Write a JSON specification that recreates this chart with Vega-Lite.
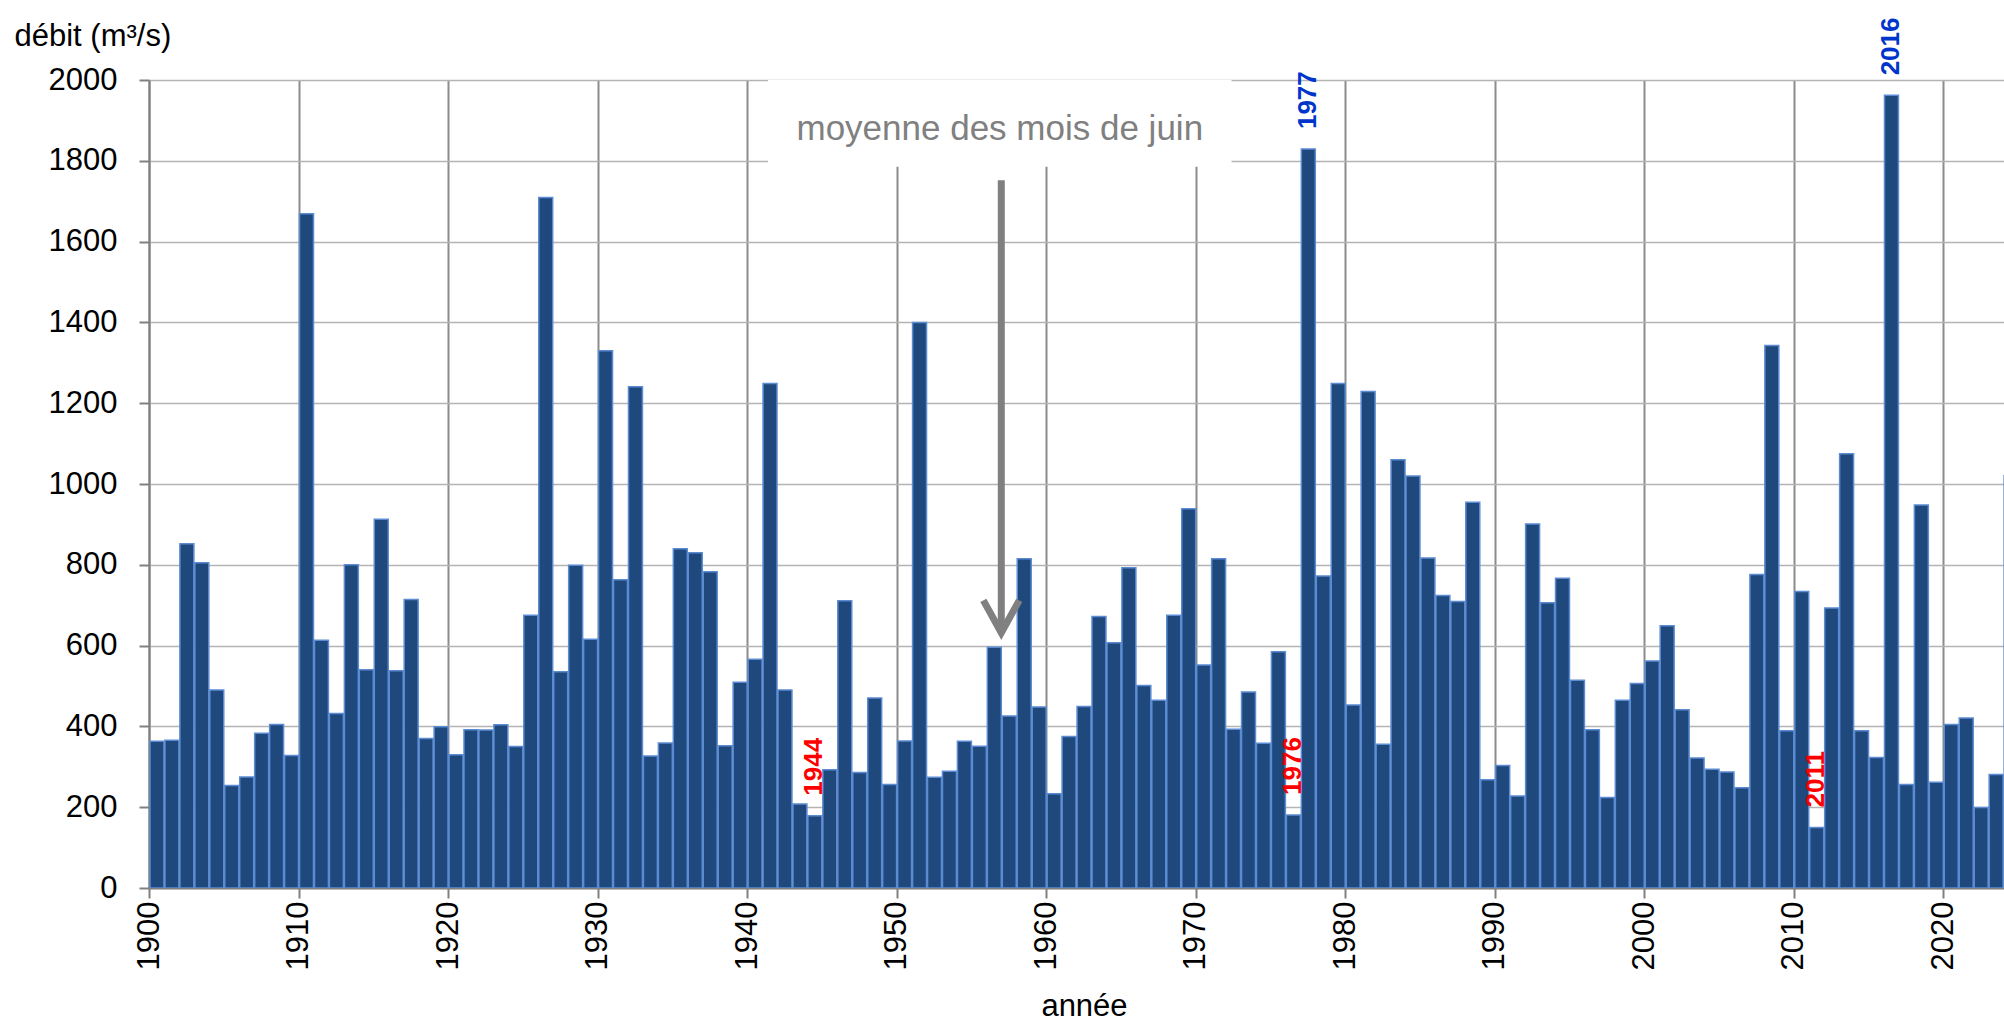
{
  "$schema": "https://vega.github.io/schema/vega-lite/v6.json",
  "autosize": "none",
  "width": 1855,
  "height": 808,
  "padding": {"left": 149, "top": 80, "right": 0, "bottom": 137},
  "background": "white",
  "config": {
    "view": {"stroke": null},
    "font": "Liberation Sans, Arial, sans-serif",
    "axis": {"labelFont": "Liberation Sans, Arial, sans-serif", "titleFont": "Liberation Sans, Arial, sans-serif", "labelColor": "#000000", "titleColor": "#000000", "titleFontWeight": "normal"}
  },
  "datasets": {
    "debits": [
      {"year": 1900, "debit": 363}, {"year": 1901, "debit": 366}, {"year": 1902, "debit": 852}, {"year": 1903, "debit": 805},
      {"year": 1904, "debit": 490}, {"year": 1905, "debit": 254}, {"year": 1906, "debit": 275}, {"year": 1907, "debit": 383},
      {"year": 1908, "debit": 405}, {"year": 1909, "debit": 328}, {"year": 1910, "debit": 1669}, {"year": 1911, "debit": 613},
      {"year": 1912, "debit": 432}, {"year": 1913, "debit": 800}, {"year": 1914, "debit": 540}, {"year": 1915, "debit": 913},
      {"year": 1916, "debit": 538}, {"year": 1917, "debit": 714}, {"year": 1918, "debit": 370}, {"year": 1919, "debit": 399},
      {"year": 1920, "debit": 330}, {"year": 1921, "debit": 392}, {"year": 1922, "debit": 391}, {"year": 1923, "debit": 404},
      {"year": 1924, "debit": 350}, {"year": 1925, "debit": 675}, {"year": 1926, "debit": 1709}, {"year": 1927, "debit": 535},
      {"year": 1928, "debit": 799}, {"year": 1929, "debit": 616}, {"year": 1930, "debit": 1330}, {"year": 1931, "debit": 763},
      {"year": 1932, "debit": 1241}, {"year": 1933, "debit": 327}, {"year": 1934, "debit": 359}, {"year": 1935, "debit": 840},
      {"year": 1936, "debit": 830}, {"year": 1937, "debit": 783}, {"year": 1938, "debit": 352}, {"year": 1939, "debit": 509},
      {"year": 1940, "debit": 566}, {"year": 1941, "debit": 1249}, {"year": 1942, "debit": 490}, {"year": 1943, "debit": 208},
      {"year": 1944, "debit": 179}, {"year": 1945, "debit": 293}, {"year": 1946, "debit": 711}, {"year": 1947, "debit": 286},
      {"year": 1948, "debit": 470}, {"year": 1949, "debit": 256}, {"year": 1950, "debit": 364}, {"year": 1951, "debit": 1400},
      {"year": 1952, "debit": 274}, {"year": 1953, "debit": 289}, {"year": 1954, "debit": 363}, {"year": 1955, "debit": 351},
      {"year": 1956, "debit": 596}, {"year": 1957, "debit": 426}, {"year": 1958, "debit": 815}, {"year": 1959, "debit": 448},
      {"year": 1960, "debit": 233}, {"year": 1961, "debit": 375}, {"year": 1962, "debit": 449}, {"year": 1963, "debit": 672},
      {"year": 1964, "debit": 607}, {"year": 1965, "debit": 793}, {"year": 1966, "debit": 501}, {"year": 1967, "debit": 465},
      {"year": 1968, "debit": 675}, {"year": 1969, "debit": 939}, {"year": 1970, "debit": 552}, {"year": 1971, "debit": 815},
      {"year": 1972, "debit": 393}, {"year": 1973, "debit": 485}, {"year": 1974, "debit": 358}, {"year": 1975, "debit": 585},
      {"year": 1976, "debit": 181}, {"year": 1977, "debit": 1829}, {"year": 1978, "debit": 772}, {"year": 1979, "debit": 1249},
      {"year": 1980, "debit": 453}, {"year": 1981, "debit": 1229}, {"year": 1982, "debit": 356}, {"year": 1983, "debit": 1060},
      {"year": 1984, "debit": 1020}, {"year": 1985, "debit": 817}, {"year": 1986, "debit": 724}, {"year": 1987, "debit": 709},
      {"year": 1988, "debit": 955}, {"year": 1989, "debit": 268}, {"year": 1990, "debit": 303}, {"year": 1991, "debit": 228},
      {"year": 1992, "debit": 901}, {"year": 1993, "debit": 706}, {"year": 1994, "debit": 767}, {"year": 1995, "debit": 514},
      {"year": 1996, "debit": 392}, {"year": 1997, "debit": 224}, {"year": 1998, "debit": 465}, {"year": 1999, "debit": 506},
      {"year": 2000, "debit": 562}, {"year": 2001, "debit": 649}, {"year": 2002, "debit": 441}, {"year": 2003, "debit": 322},
      {"year": 2004, "debit": 294}, {"year": 2005, "debit": 287}, {"year": 2006, "debit": 248}, {"year": 2007, "debit": 776},
      {"year": 2008, "debit": 1343}, {"year": 2009, "debit": 389}, {"year": 2010, "debit": 734}, {"year": 2011, "debit": 150},
      {"year": 2012, "debit": 693}, {"year": 2013, "debit": 1075}, {"year": 2014, "debit": 389}, {"year": 2015, "debit": 323},
      {"year": 2016, "debit": 1962}, {"year": 2017, "debit": 256}, {"year": 2018, "debit": 948}, {"year": 2019, "debit": 262},
      {"year": 2020, "debit": 405}, {"year": 2021, "debit": 421}, {"year": 2022, "debit": 199}, {"year": 2023, "debit": 281},
      {"year": 2024, "debit": 1021}
    ],
    "boite": [{"x1": 1941.4, "x2": 1972.4, "y1": 1785, "y2": 2000}],
    "legende": [{"x": 1956.9, "y": 1878, "texte": "moyenne des mois de juin"}],
    "fleche": [{"x": 1957, "y": 1752, "y2": 640}],
    "pointe": [{"x": 1955.8, "y": 712}, {"x": 1957, "y": 632}, {"x": 1958.2, "y": 712}]
  },
  "layer": [
    {
      "data": {"name": "boite"},
      "mark": {"type": "rect", "fill": "white", "stroke": null},
      "encoding": {
        "x": {"field": "x1", "type": "quantitative", "scale": {"domain": [1900, 2024.06], "nice": false, "zero": false}},
        "x2": {"field": "x2"},
        "y": {"field": "y1", "type": "quantitative", "scale": {"domain": [0, 2000], "nice": false}},
        "y2": {"field": "y2"}
      }
    },
    {
      "data": {"name": "debits"},
      "mark": {"type": "bar", "fill": "#1F497D", "stroke": "#5B8BD2", "strokeWidth": 1.5, "clip": true},
      "encoding": {
        "x": {
          "field": "year", "type": "quantitative",
          "bin": {"step": 1, "extent": [1900, 2025]},
          "axis": {
            "values": [1900, 1910, 1920, 1930, 1940, 1950, 1960, 1970, 1980, 1990, 2000, 2010, 2020],
            "format": "d", "labelAngle": 270, "labelAlign": "right", "labelBaseline": "middle",
            "labelFontSize": 31, "labelPadding": 3, "labelOverlap": false, "labelFlush": false,
            "tickSize": 10, "tickColor": "#808080", "tickWidth": 2,
            "domainColor": "#808080", "domainWidth": 2,
            "grid": true, "gridColor": "#8C8C8C", "gridWidth": 2,
            "title": "année", "titleFontSize": 31, "titleX": 935, "titleY": 127,
            "titleAlign": "center", "titleBaseline": "alphabetic"
          }
        },
        "y": {
          "field": "debit", "type": "quantitative",
          "axis": {
            "values": [0, 200, 400, 600, 800, 1000, 1200, 1400, 1600, 1800, 2000],
            "format": "d",
            "labelFontSize": 31, "labelPadding": 22, "tickSize": 10, "tickColor": "#808080", "tickWidth": 2,
            "domainColor": "#808080", "domainWidth": 2,
            "grid": true, "gridColor": "#B4B4B4", "gridWidth": 1.5,
            "title": "débit (m³/s)", "titleFontSize": 31, "titleAngle": 0, "titleAlign": "left",
            "titleBaseline": "alphabetic", "titleX": -135, "titleY": -35
          }
        }
      }
    },
    {
      "mark": {"type": "rule", "color": "#808080", "strokeWidth": 5, "strokeDash": [17, 7], "strokeCap": "round"},
      "encoding": {"y": {"datum": 600}}
    },
    {
      "data": {"name": "fleche"},
      "mark": {"type": "rule", "color": "#808080", "strokeWidth": 7},
      "encoding": {
        "x": {"field": "x", "type": "quantitative"},
        "y": {"field": "y", "type": "quantitative"},
        "y2": {"field": "y2"}
      }
    },
    {
      "data": {"name": "pointe"},
      "mark": {"type": "line", "color": "#808080", "strokeWidth": 7, "strokeJoin": "miter", "strokeCap": "butt"},
      "encoding": {
        "x": {"field": "x", "type": "quantitative"},
        "y": {"field": "y", "type": "quantitative"}
      }
    },
    {
      "data": {"name": "legende"},
      "mark": {"type": "text", "color": "#808080", "fontSize": 35, "align": "center", "baseline": "middle", "font": "Liberation Sans, Arial, sans-serif"},
      "encoding": {
        "x": {"field": "x", "type": "quantitative"},
        "y": {"field": "y", "type": "quantitative"},
        "text": {"field": "texte"}
      }
    },
    {
      "data": {"name": "debits"},
      "transform": [{"filter": "indexof([1944, 1976, 1977, 2011, 2016], datum.year) >= 0"}],
      "mark": {"type": "text", "angle": 270, "align": "left", "baseline": "middle", "dx": 20, "fontSize": 26, "fontWeight": "bold", "font": "Liberation Sans, Arial, sans-serif"},
      "encoding": {
        "x": {"field": "year", "type": "quantitative", "bin": {"step": 1, "extent": [1900, 2025]}},
        "y": {"field": "debit", "type": "quantitative"},
        "text": {"field": "year", "type": "quantitative", "format": "d"},
        "color": {
          "condition": {"test": "datum.year == 1977 || datum.year == 2016", "value": "#0035CC"},
          "value": "#FF0000"
        }
      }
    }
  ]
}
